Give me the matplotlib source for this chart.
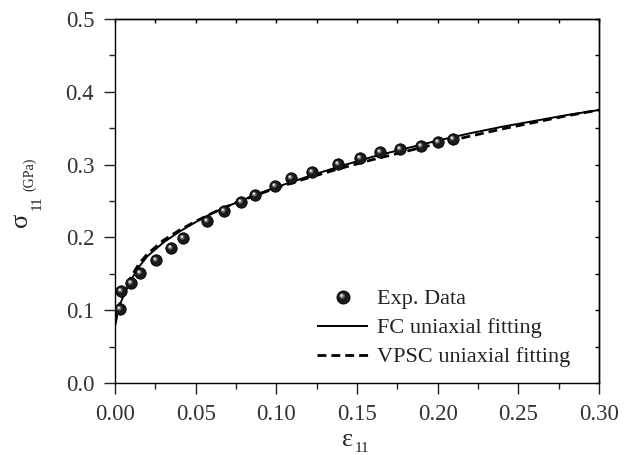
import numpy as np
import matplotlib
matplotlib.use("Agg")
import matplotlib.pyplot as plt
from matplotlib.path import Path
from matplotlib.legend_handler import HandlerTuple
from matplotlib.ticker import MultipleLocator

# Experimental uniaxial stress-strain data
exp_strain = [0.0033, 0.0037, 0.0099, 0.0157, 0.0254, 0.0347, 0.0421, 0.0571,
              0.0675, 0.0778, 0.0867, 0.0990, 0.1094, 0.1220, 0.1380, 0.1516,
              0.1640, 0.1764, 0.1898, 0.2001, 0.2094]
exp_stress = [0.102, 0.126, 0.138, 0.151, 0.169, 0.185, 0.1995, 0.223,
              0.236, 0.249, 0.258, 0.271, 0.281, 0.290, 0.301, 0.3096,
              0.317, 0.3215, 0.326, 0.3316, 0.335]

# Fitted model curves
fit_strain = [0.0, 0.002, 0.004, 0.007, 0.010, 0.015, 0.020, 0.030, 0.040,
              0.050, 0.060, 0.070, 0.080, 0.090, 0.100, 0.120, 0.140, 0.160,
              0.180, 0.200, 0.220, 0.240, 0.260, 0.280, 0.300]
fc_stress = [0.083, 0.100, 0.113, 0.128, 0.142, 0.160, 0.174, 0.193, 0.208,
             0.221, 0.233, 0.243, 0.252, 0.261, 0.269, 0.284, 0.298, 0.311,
             0.322, 0.333, 0.343, 0.352, 0.360, 0.368, 0.375]
vpsc_stress = [0.080, 0.102, 0.117, 0.133, 0.146, 0.164, 0.177, 0.196, 0.210,
               0.222, 0.233, 0.243, 0.252, 0.260, 0.268, 0.282, 0.295, 0.307,
               0.318, 0.329, 0.339, 0.349, 0.358, 0.367, 0.375]

x_ticks = [0.00, 0.05, 0.10, 0.15, 0.20, 0.25, 0.30]
y_ticks = [0.0, 0.1, 0.2, 0.3, 0.4, 0.5]

plt.rcParams['font.family'] = ['Liberation Serif', 'DejaVu Serif']

W, H = 628, 455
fig = plt.figure(figsize=(W / 100, H / 100), dpi=100)
ax = fig.add_axes([115 / W, 1 - 383 / H, 484 / W, 364 / H])


def fx(px):
    return px / W


def fy(py):
    return 1 - py / H


# Sphere-like markers: dark ball with an off-centre highlight
def offset_circle(cx, cy, r, n=40):
    t = np.linspace(0, 2 * np.pi, n)
    verts = np.column_stack([cx + r * np.cos(t), cy + r * np.sin(t)])
    codes = [Path.MOVETO] + [Path.LINETO] * (n - 2) + [Path.CLOSEPOLY]
    return Path(verts, codes)


ms = 8.2
hl1 = offset_circle(-0.22, 0.22, 0.42)
hl2 = offset_circle(-0.30, 0.30, 0.20)
hl1_scale = np.max(np.abs(hl1.vertices))
hl2_scale = np.max(np.abs(hl2.vertices))

ax.plot(fit_strain, fc_stress, color='black', lw=1.4, solid_capstyle='butt',
        zorder=2, label='FC uniaxial fitting')
ax.plot(fit_strain, vpsc_stress, color='black', lw=2.0, ls=(0, (3.2, 1.8)),
        zorder=2, label='VPSC uniaxial fitting')

base, = ax.plot(exp_strain, exp_stress, ls='none', marker='o', ms=ms,
                mfc='#1a1a1a', mec='#000000', mew=0.6, zorder=3)
g1, = ax.plot(exp_strain, exp_stress, ls='none', marker=hl1,
              ms=ms * hl1_scale, mfc='#6e6e6e', mec='none', zorder=4)
g2, = ax.plot(exp_strain, exp_stress, ls='none', marker=hl2,
              ms=ms * hl2_scale, mfc='#e8e8e8', mec='none', zorder=5)

ax.set_xlim(0, 0.30)
ax.set_ylim(0, 0.5)
ax.set_xticks(x_ticks)
ax.set_xticklabels([f"{v:.2f}" for v in x_ticks])
ax.set_yticks(y_ticks)
ax.set_yticklabels([f"{v:.1f}" for v in y_ticks])
ax.xaxis.set_minor_locator(MultipleLocator(0.025))
ax.yaxis.set_minor_locator(MultipleLocator(0.05))

for s in ax.spines.values():
    s.set_linewidth(1.0)

ax.tick_params(which='both', direction='out', width=1.0, labelsize=16.5,
               colors='#222222', labelcolor='#333333')
ax.tick_params(which='major', length=8)
ax.tick_params(which='minor', length=4)
ax.tick_params(axis='x', which='major', pad=7)
ax.tick_params(axis='y', which='major', pad=7)

# inward ticks on the top and right frame
ax_top = ax.secondary_xaxis('top')
ax_top.set_xticks(x_ticks)
ax_top.xaxis.set_minor_locator(MultipleLocator(0.025))
ax_top.tick_params(which='both', direction='in', length=3, width=1.0,
                   labeltop=False)
ax_top.spines['top'].set_linewidth(1.0)
ax_right = ax.secondary_yaxis('right')
ax_right.set_yticks(y_ticks)
ax_right.yaxis.set_minor_locator(MultipleLocator(0.05))
ax_right.tick_params(which='both', direction='in', length=3, width=1.0,
                     labelright=False)
ax_right.spines['right'].set_linewidth(1.0)

# Axis labels
fig.text(fx(348), fy(440), 'ε', fontsize=19, ha='center', va='center',
         color='#222222')
fig.text(fx(362), fy(449), '11', fontsize=11, ha='center', va='center',
         color='#222222')
fig.text(fx(21), fy(220), 'σ', fontsize=19, ha='center', va='center',
         rotation=90, color='#222222')
fig.text(fx(37), fy(203), '11', fontsize=11, ha='center', va='center',
         rotation=90, color='#222222')
fig.text(fx(30), fy(174), '(GPa)', fontsize=10, ha='center', va='center',
         rotation=90, color='#222222')

# Legend
leg_handles = [(base, g1, g2), ax.lines[0], ax.lines[1]]
leg_labels = ['Exp. Data', 'FC uniaxial fitting', 'VPSC uniaxial fitting']
leg = ax.legend(leg_handles, leg_labels,
                handler_map={tuple: HandlerTuple(ndivide=1, pad=0)},
                loc='center left', bbox_to_anchor=((317 - 115) / 484, (383 - 328) / 364),
                frameon=False, fontsize=16, handlelength=2.3, handletextpad=0.4,
                labelspacing=0.38, borderpad=0, borderaxespad=0, numpoints=1,
                markerscale=1.15)
for t in leg.get_texts():
    t.set_color('#222222')

fig.savefig('out.png', dpi=100)
